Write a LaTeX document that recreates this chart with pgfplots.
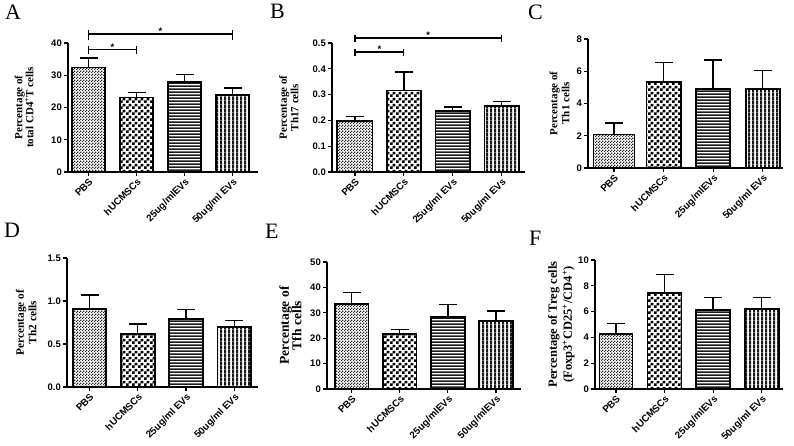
\documentclass[border=0pt]{standalone}
\usepackage{pgfplots}
\pgfplotsset{compat=1.18}
\usepackage{fontspec}
\setmainfont{Liberation Serif}
\setsansfont{Liberation Sans}
\usetikzlibrary{patterns}
\pgfdeclarepatternformonly{finecheck}{\pgfqpoint{0pt}{0pt}}{\pgfqpoint{2.6pt}{2.6pt}}{\pgfqpoint{2.6pt}{2.6pt}}{%
 \pgfpathrectangle{\pgfqpoint{0pt}{0pt}}{\pgfqpoint{1.3pt}{1.3pt}}%
 \pgfpathrectangle{\pgfqpoint{1.3pt}{1.3pt}}{\pgfqpoint{1.3pt}{1.3pt}}%
 \pgfusepath{fill}}
\pgfdeclarepatternformonly{bigcheck}{\pgfqpoint{0pt}{0pt}}{\pgfqpoint{6pt}{6pt}}{\pgfqpoint{6pt}{6pt}}{%
 \pgfpathrectangle{\pgfqpoint{0pt}{0pt}}{\pgfqpoint{3pt}{3pt}}%
 \pgfpathrectangle{\pgfqpoint{3pt}{3pt}}{\pgfqpoint{3pt}{3pt}}%
 \pgfusepath{fill}}
\pgfdeclarepatternformonly{hlin}{\pgfqpoint{0pt}{0pt}}{\pgfqpoint{3.4pt}{3.4pt}}{\pgfqpoint{3.4pt}{3.4pt}}{%
 \pgfpathrectangle{\pgfqpoint{0pt}{0pt}}{\pgfqpoint{3.4pt}{2pt}}%
 \pgfusepath{fill}}
\pgfdeclarepatternformonly{vlin}{\pgfqpoint{0pt}{0pt}}{\pgfqpoint{3.8pt}{3.8pt}}{\pgfqpoint{3.8pt}{3.8pt}}{%
 \pgfpathrectangle{\pgfqpoint{0pt}{0pt}}{\pgfqpoint{2.3pt}{3.8pt}}%
 \pgfusepath{fill}}
\newcommand\tickfont{\sffamily\bfseries\fontsize{9.5}{11}\selectfont}
\newcommand\xtickfont{\sffamily\bfseries\fontsize{9.8}{11}\selectfont}
\pgfplotsset{
  gp/.style={
    scale only axis, anchor=south west,
    axis x line=bottom, axis y line=left,
    axis line style={-, line width=1.4pt, black},
    tick style={line width=1.2pt, black},
    tick align=outside, major tick length=4pt,
    xtick={0,1,2,3},
    xticklabel style={rotate=45, anchor=north east, font=\xtickfont, inner sep=1pt},
    yticklabel style={font=\tickfont, inner sep=2pt},
    /pgf/number format/assume math mode=true,
    ymin=0, clip=false,
    ylabel style={rotate=0, anchor=south, align=center},
  },
  ebar/.style={error bars/.cd, y dir=plus, y explicit,
    error bar style={line width=1.4pt, black},
    error mark options={rotate=90, mark size=9pt, line width=1.4pt, black}},
  bpbs/.style={ybar, bar shift=0pt, bar width=#1, draw=black, line width=1.8pt, pattern=finecheck, pattern color=black!85, ebar},
  bhuc/.style={ybar, bar shift=0pt, bar width=#1, draw=black, line width=1.8pt, pattern=bigcheck, pattern color=black, ebar},
  bh/.style={ybar, bar shift=0pt, bar width=#1, draw=black, line width=1.8pt, pattern=hlin, pattern color=black!90, ebar},
  bv/.style={ybar, bar shift=0pt, bar width=#1, draw=black, line width=1.8pt, pattern=vlin, pattern color=black!90, ebar},
  brk/.style={black, line width=1.3pt, forget plot},
}
\begin{document}
\begin{tikzpicture}
\path[use as bounding box] (0,0) rectangle (794pt,445pt);
% panel letters
\node[anchor=base west, inner sep=0pt, font=\fontsize{22}{22}\selectfont] at (5pt,425pt) {A};
\node[anchor=base west, inner sep=0pt, font=\fontsize{22}{22}\selectfont] at (270pt,426pt) {B};
\node[anchor=base west, inner sep=0pt, font=\fontsize{22}{22}\selectfont] at (528pt,425pt) {C};
\node[anchor=base west, inner sep=0pt, font=\fontsize{22}{22}\selectfont] at (4pt,208pt) {D};
\node[anchor=base west, inner sep=0pt, font=\fontsize{22}{22}\selectfont] at (265pt,207pt) {E};
\node[anchor=base west, inner sep=0pt, font=\fontsize{22}{22}\selectfont] at (529pt,200pt) {F};

% ---------- A
\begin{axis}[gp, at={(68pt,273pt)}, width=190pt, height=129pt,
  xmin=-0.427, xmax=3.53, ymax=40, ytick={0,10,20,30,40},
  xticklabels={PBS,hUCMSCs,25ug/mlEVs,50ug/ml EVs},
  ylabel={Percentage of\\total CD4\textsuperscript{+}T cells},
  ylabel style={at={(axis description cs:-0.163,0.5)}, font=\bfseries\fontsize{11}{11}\selectfont}]
\addplot[bpbs=0.70] coordinates {(0,32.4) +- (0,2.9)};
\addplot[bhuc=0.70] coordinates {(1,23.1) +- (0,1.5)};
\addplot[bh=0.70] coordinates {(2,27.8) +- (0,2.5)};
\addplot[bv=0.70] coordinates {(3,23.9) +- (0,2.1)};
\addplot[brk] coordinates {(0,37.9) (1,37.9)};
\addplot[brk] coordinates {(0,39.0) (0,36.6)};
\addplot[brk] coordinates {(1,39.0) (1,36.6)};
\addplot[brk] coordinates {(0,42.8) (3,42.8)};
\addplot[brk] coordinates {(0,43.9) (0,41.0)};
\addplot[brk] coordinates {(3,43.9) (3,41.0)};
\node[font=\tickfont, anchor=south, inner sep=0.5pt] at (axis cs:0.5,37.6) {*};
\node[font=\tickfont, anchor=south, inner sep=0.5pt] at (axis cs:1.5,42.5) {*};
\end{axis}

% ---------- B
\begin{axis}[gp, at={(332pt,273pt)}, width=193pt, height=129pt,
  xmin=-0.47, xmax=3.48, ymax=0.5, ytick={0,0.1,0.2,0.3,0.4,0.5},
  yticklabel style={/pgf/number format/.cd, fixed, fixed zerofill, precision=1},
  xticklabels={PBS,hUCMSCs,25ug/ml EVs,50ug/ml EVs},
  ylabel={Percentage of\\Th17 cells},
  ylabel style={at={(axis description cs:-0.155,0.5)}, font=\bfseries\fontsize{11}{11.5}\selectfont}]
\addplot[bpbs=0.72] coordinates {(0,0.199) +- (0,0.015)};
\addplot[bhuc=0.70] coordinates {(1,0.316) +- (0,0.071)};
\addplot[bh=0.70] coordinates {(2,0.237) +- (0,0.015)};
\addplot[bv=0.70] coordinates {(3,0.257) +- (0,0.017)};
\addplot[brk] coordinates {(0,0.465) (1,0.465)};
\addplot[brk] coordinates {(0,0.478) (0,0.449)};
\addplot[brk] coordinates {(1,0.478) (1,0.449)};
\addplot[brk] coordinates {(0,0.519) (3,0.519)};
\addplot[brk] coordinates {(0,0.532) (0,0.504)};
\addplot[brk] coordinates {(3,0.532) (3,0.504)};
\node[font=\tickfont, anchor=south, inner sep=0.5pt] at (axis cs:0.5,0.462) {*};
\node[font=\tickfont, anchor=south, inner sep=0.5pt] at (axis cs:1.5,0.516) {*};
\end{axis}

% ---------- C
\begin{axis}[gp, at={(588pt,277pt)}, width=195pt, height=129pt,
  xmin=-0.525, xmax=3.41, ymax=8, ytick={0,2,4,6,8},
  xticklabels={PBS,hUCMSCs,25ug/mlEVs,50ug/ml EVs},
  ylabel={Percentage of\\Th1 cells},
  ylabel style={at={(axis description cs:-0.077,0.5)}, font=\bfseries\fontsize{11}{12}\selectfont}]
\addplot[bpbs=0.83] coordinates {(0,2.08) +- (0,0.7)};
\addplot[bhuc=0.69] coordinates {(1,5.35) +- (0,1.2)};
\addplot[bh=0.69] coordinates {(2,4.88) +- (0,1.82)};
\addplot[bv=0.69] coordinates {(3,4.92) +- (0,1.13)};
\end{axis}

% ---------- D
\begin{axis}[gp, at={(67pt,58pt)}, width=191pt, height=129pt,
  xmin=-0.466, xmax=3.49, ymax=1.5, ytick={0,0.5,1,1.5},
  yticklabel style={/pgf/number format/.cd, fixed, fixed zerofill, precision=1},
  xticklabels={PBS,hUCMSCs,25ug/ml EVs,50ug/ml EVs},
  ylabel={Percentage of\\Th2 cells},
  ylabel style={at={(axis description cs:-0.141,0.5)}, font=\bfseries\fontsize{11.3}{12.5}\selectfont}]
\addplot[bpbs=0.70] coordinates {(0,0.908) +- (0,0.16)};
\addplot[bhuc=0.70] coordinates {(1,0.619) +- (0,0.113)};
\addplot[bh=0.70] coordinates {(2,0.787) +- (0,0.113)};
\addplot[bv=0.70] coordinates {(3,0.697) +- (0,0.074)};
\end{axis}

% ---------- E
\begin{axis}[gp, at={(327pt,56pt)}, width=194pt, height=127pt,
  xmin=-0.51, xmax=3.52, ymax=50, ytick={0,10,20,30,40,50},
  xticklabels={PBS,hUCMSCs,25ug/mlEVs,50ug/mlEVs},
  ylabel={Percentage of\\Tfh cells},
  ylabel style={at={(axis description cs:-0.113,0.5)}, font=\bfseries\fontsize{13.5}{12.5}\selectfont}]
\addplot[bpbs=0.70] coordinates {(0,33.4) +- (0,4.6)};
\addplot[bhuc=0.70] coordinates {(1,21.7) +- (0,1.8)};
\addplot[bh=0.70] coordinates {(2,28.3) +- (0,5.0)};
\addplot[bv=0.70] coordinates {(3,26.8) +- (0,3.9)};
\end{axis}

% ---------- F
\begin{axis}[gp, at={(595pt,56pt)}, width=188pt, height=129pt,
  xmin=-0.433, xmax=3.44, ymax=10, ytick={0,2,4,6,8,10},
  xticklabels={PBS,hUCMSCs,25ug/mlEVs,50ug/ml EVs},
  ylabel={Percentage of Treg cells\\(Foxp3\textsuperscript{+}CD25\textsuperscript{+}/CD4\textsuperscript{+})},
  ylabel style={at={(axis description cs:-0.090,0.5)}, font=\bfseries\fontsize{12.5}{15}\selectfont}]
\addplot[bpbs=0.68] coordinates {(0,4.29) +- (0,0.77)};
\addplot[bhuc=0.70] coordinates {(1,7.47) +- (0,1.42)};
\addplot[bh=0.70] coordinates {(2,6.1) +- (0,0.98)};
\addplot[bv=0.70] coordinates {(3,6.2) +- (0,0.9)};
\end{axis}
\end{tikzpicture}
\end{document}
